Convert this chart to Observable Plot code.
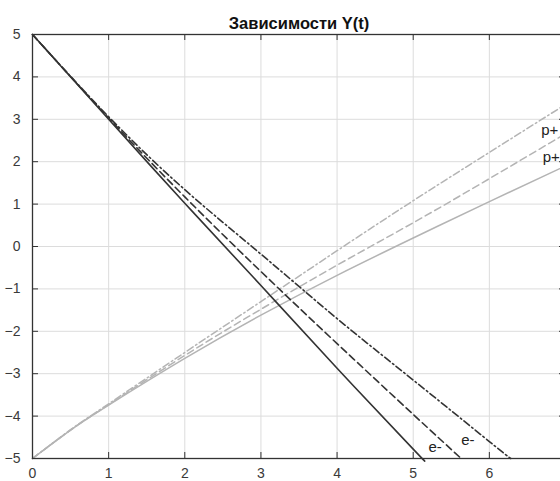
<!DOCTYPE html>
<html>
<head>
<meta charset="utf-8">
<script src="https://cdn.jsdelivr.net/npm/d3@7"></script>
<script src="https://cdn.jsdelivr.net/npm/@observablehq/plot@0.6"></script>
<style>
  html, body { margin: 0; padding: 0; background: #fff; overflow: hidden; }
  #chart svg { display: block; }
</style>
</head>
<body>
<div id="chart"></div>
<script>
const title = "Зависимости Y(t)";
const xTicks = [0, 1, 2, 3, 4, 5, 6, 7];
const yTicks = [-5, -4, -3, -2, -1, 0, 1, 2, 3, 4, 5];

// e- curves (dark), start at (0, 5)
const eSolidT = [0, 1, 2, 3, 4, 5, 5.12];
const eSolidY = [5, 3.0, 1.02, -0.92, -2.87, -4.78, -5];
const eDashT = [0, 1, 2, 3, 4, 5, 5.63];
const eDashY = [5, 3.03, 1.17, -0.59, -2.29, -3.96, -5];
const eDotT = [0, 1, 2, 3, 4, 5, 6, 6.28];
const eDotY = [5, 3.06, 1.34, -0.18, -1.7, -3.15, -4.6, -5];

// p+ curves (light), start at (0, -5)
const pSolidT = [0, 0.5, 1, 2, 3, 4, 5, 6, 7];
const pSolidY = [-5, -4.33, -3.74, -2.64, -1.62, -0.68, 0.2, 1.06, 1.9];
const pDashT = [0, 0.5, 1, 2, 3, 4, 5, 6, 7];
const pDashY = [-5, -4.33, -3.73, -2.57, -1.48, -0.44, 0.56, 1.6, 2.66];
const pDotT = [0, 0.5, 1, 2, 3, 4, 5, 6, 7];
const pDotY = [-5, -4.32, -3.71, -2.5, -1.3, -0.1, 1.08, 2.22, 3.35];

// curve labels
const labelText = ["p+", "p+", "e-", "e-"];
const labelX = [6.68, 6.70, 5.2, 5.63];
const labelY = [2.75, 2.11, -4.73, -4.56];

const toRows = (T, Y) => T.map((t, i) => ({t, y: Y[i]}));
const labels = labelText.map((s, i) => ({s, x: labelX[i], y: labelY[i]}));

const dark = "#333333";
const light = "#b4b4b4";
const dash = "7,4";
const dashDot = "7,3,1.5,3";

const frameH = 481 - 34 - 23;
const frameW = 565 - 32;

const chart = Plot.plot({
  width: 560,
  height: 481,
  marginLeft: 32,
  marginRight: -5,
  marginTop: 34,
  marginBottom: 23,
  style: {fontFamily: "'Liberation Sans', Arial, Helvetica, sans-serif", fontSize: "14px", background: "#fff"},
  x: {domain: [0, 7], label: null},
  y: {domain: [-5, 5], label: null},
  marks: [
    Plot.gridX(xTicks, {stroke: "#dcdcdc", strokeOpacity: 1}),
    Plot.gridY(yTicks, {stroke: "#dcdcdc", strokeOpacity: 1}),
    Plot.tickX(xTicks, {x: d => d, insetTop: frameH - 6, stroke: dark}),
    Plot.tickX(xTicks, {x: d => d, insetBottom: frameH - 6, stroke: dark}),
    Plot.tickY(yTicks, {y: d => d, insetRight: frameW - 6, stroke: dark}),
    Plot.tickY(yTicks, {y: d => d, insetLeft: frameW - 6, stroke: dark}),
    Plot.axisX(xTicks, {tickSize: 0, tickPadding: 10, fontSize: 14, color: "#3a3a3a", label: null}),
    Plot.axisY(yTicks, {tickSize: 0, tickPadding: 12, fontSize: 14, color: "#3a3a3a", label: null}),
    Plot.line(toRows(pSolidT, pSolidY), {x: "t", y: "y", curve: "natural", stroke: light, strokeWidth: 1.5}),
    Plot.line(toRows(pDashT, pDashY), {x: "t", y: "y", curve: "natural", stroke: light, strokeWidth: 1.5, strokeDasharray: dash}),
    Plot.line(toRows(pDotT, pDotY), {x: "t", y: "y", curve: "natural", stroke: light, strokeWidth: 1.5, strokeDasharray: dashDot}),
    Plot.line(toRows(eSolidT, eSolidY), {x: "t", y: "y", curve: "natural", stroke: dark, strokeWidth: 1.6}),
    Plot.line(toRows(eDashT, eDashY), {x: "t", y: "y", curve: "natural", stroke: dark, strokeWidth: 1.6, strokeDasharray: dash}),
    Plot.line(toRows(eDotT, eDotY), {x: "t", y: "y", curve: "natural", stroke: dark, strokeWidth: 1.6, strokeDasharray: dashDot}),
    Plot.text(labels, {x: "x", y: "y", text: "s", textAnchor: "start", fontSize: 15, fill: "#222"}),
    Plot.frame({stroke: dark, strokeWidth: 1.3}),
    Plot.text([title], {frameAnchor: "top", dy: -17, fontWeight: "bold", fontSize: 16.5, fill: "#111"})
  ]
});
document.getElementById("chart").appendChild(chart);
</script>
</body>
</html>
